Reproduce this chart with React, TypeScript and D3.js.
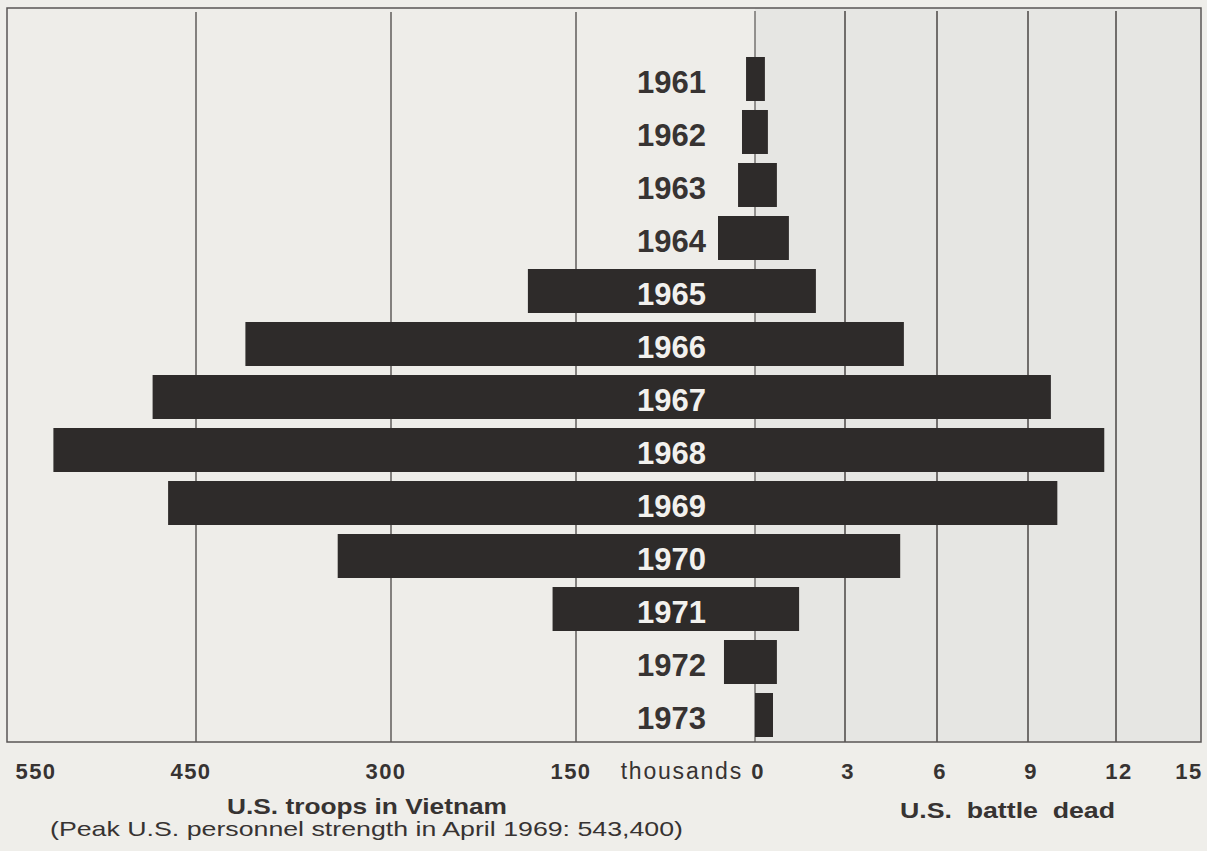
import React from "react";
import * as d3 from "d3";

// values
const years = ["1961", "1962", "1963", "1964", "1965", "1966", "1967", "1968", "1969", "1970", "1971", "1972", "1973"];
// U.S. troops in Vietnam, thousands
const troops = [7.5, 10.9, 14.2, 31, 189, 412, 478, 542, 468, 341, 169, 26, 0];
// U.S. battle dead, thousands
const battleDead = [0.33, 0.43, 0.73, 1.13, 2.03, 4.92, 9.78, 11.6, 10.0, 4.8, 1.47, 0.73, 0.6];

const troopTicks = [550, 450, 300, 150];
const deadTicks = [0, 3, 6, 9, 12, 15];

const W = 1207;
const H = 851;
const frame = {left: 7, right: 1201, top: 8, bottom: 742};
const font = "'Liberation Sans', Arial, Helvetica, sans-serif";
const ink = "#373332";
const barColor = "#2e2b2a";

export default function App() {
    // the printed scale is not quite even, so the scale is piecewise
    const xTroops = d3.scaleLinear()
        .domain([550, 450, 300, 150, 0])
        .range([41, 196, 391, 576, 755]);
    const xDead = d3.scaleLinear()
        .domain([0, 3, 6, 9, 12, 15])
        .range([755, 845, 937, 1028, 1116, 1186]);
    const y = d3.scaleBand()
        .domain(years)
        .range([50, 744])
        .paddingInner(0.17)
        .paddingOuter(0.132);

    const zero = xTroops(0);
    const labelEnd = zero - 49;
    const tickY = 779;

    const rows = years.map((yr, i) => ({year: yr, troops: troops[i], dead: battleDead[i]}));

    return (
        <svg width={W} height={H} style={{position: "absolute", left: 0, top: 0}} fontFamily={font}>
            <rect x={0} y={0} width={W} height={H} fill="#efeeea" />

            {/* left (troops) and right (dead) panels */}
            <rect x={frame.left} y={frame.top} width={zero - frame.left} height={frame.bottom - frame.top} fill="#eeede9" />
            <rect x={zero} y={frame.top} width={frame.right - zero} height={frame.bottom - frame.top} fill="#e6e6e3" />

            {/* grid lines */}
            {troopTicks.filter(t => t !== 550).map(t => (
                <line key={"gl" + t} x1={xTroops(t)} x2={xTroops(t)} y1={frame.top + 4} y2={frame.bottom}
                      stroke="#4a4645" strokeWidth={1.3} />
            ))}
            {deadTicks.filter(t => t !== 15).map(t => (
                <line key={"gr" + t} x1={xDead(t)} x2={xDead(t)} y1={frame.top + 3} y2={frame.bottom}
                      stroke="#4a4645" strokeWidth={t === 0 ? 1.1 : 1.5} />
            ))}

            {/* frame */}
            <rect x={frame.left} y={frame.top} width={frame.right - frame.left} height={frame.bottom - frame.top}
                  fill="none" stroke="#5a5655" strokeWidth={1.5} />

            {/* bars: troops to the left of zero, battle dead to the right */}
            {rows.map(d => {
                const x0 = xTroops(d.troops);
                const x1 = xDead(d.dead);
                return (
                    <rect key={"b" + d.year} x={x0} y={y(d.year)} width={x1 - x0} height={y.bandwidth()}
                          fill={barColor} />
                );
            })}

            {/* year labels, white where they sit on a bar */}
            {rows.map(d => {
                const onBar = xTroops(d.troops) < labelEnd - 72;
                return (
                    <text key={"t" + d.year} x={labelEnd} y={(y(d.year) as number) + y.bandwidth() / 2 + 14}
                          textAnchor="end" fontSize={31} fontWeight="bold"
                          fill={onBar ? "#f2f1ee" : ink}>{d.year}</text>
                );
            })}

            {/* tick labels */}
            {troopTicks.map(t => (
                <text key={"lt" + t} x={xTroops(t) - 5} y={tickY} textAnchor="middle" fontSize={22}
                      fontWeight="bold" letterSpacing={1.5} fill={ink}>{t}</text>
            ))}
            <text x={zero - 12} y={tickY} textAnchor="end" fontSize={23} letterSpacing={1.8} fill={ink}>thousands</text>
            {deadTicks.map(t => (
                <text key={"rt" + t} x={xDead(t) + 3} y={tickY} textAnchor="middle" fontSize={22}
                      fontWeight="bold" letterSpacing={1.5} fill={ink}>{t}</text>
            ))}

            {/* axis titles */}
            <text x={227} y={814} fontSize={22} fontWeight="bold" fill={ink}
                  textLength={280} lengthAdjust="spacingAndGlyphs">U.S. troops in Vietnam</text>
            <text x={50} y={836} fontSize={21} fill={ink}
                  textLength={633} lengthAdjust="spacingAndGlyphs">(Peak U.S. personnel strength in April 1969: 543,400)</text>
            <text x={900} y={818} fontSize={22} fontWeight="bold" fill={ink} wordSpacing={6}
                  textLength={215} lengthAdjust="spacingAndGlyphs">U.S. battle dead</text>
        </svg>
    );
}
